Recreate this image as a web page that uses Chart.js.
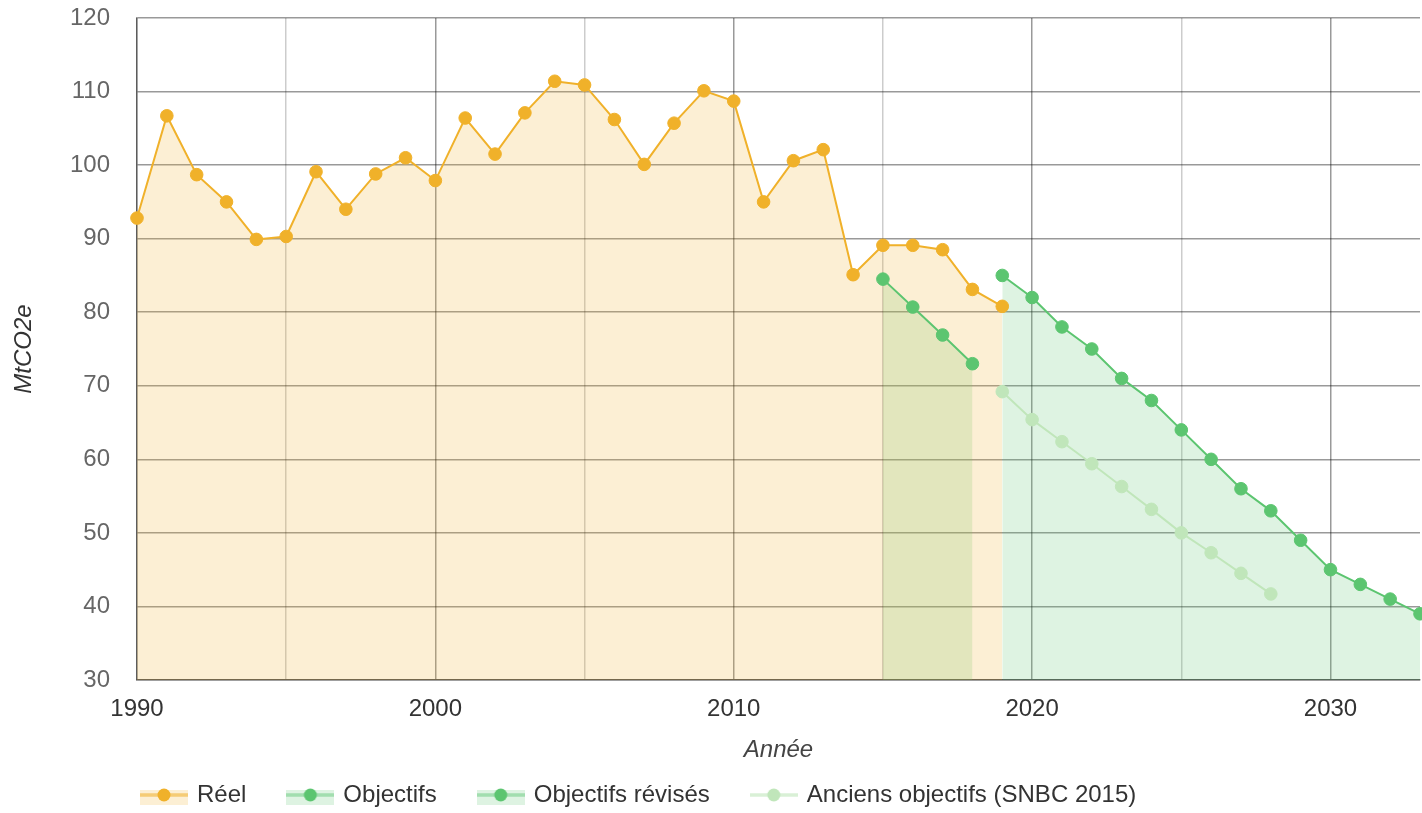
<!DOCTYPE html>
<html>
<head>
<meta charset="utf-8">
<script src="https://cdn.jsdelivr.net/npm/chart.js@4/dist/chart.umd.min.js"></script>
<style>
html,body{margin:0;padding:0;background:#fff;}
#wrap{width:1422px;height:813px;position:relative;}
</style>
</head>
<body>
<div id="wrap"><canvas id="c" width="1422" height="813"></canvas></div>
<script>
// ---- Data ----
const reelYears = [1990,1991,1992,1993,1994,1995,1996,1997,1998,1999,2000,2001,2002,2003,2004,2005,2006,2007,2008,2009,2010,2011,2012,2013,2014,2015,2016,2017,2018,2019];
const reelValues = [92.8,106.7,98.7,95.0,89.9,90.3,99.1,94.0,98.8,101.0,97.9,106.4,101.5,107.1,111.4,110.9,106.2,100.1,105.7,110.1,108.7,95.0,100.6,102.1,85.1,89.1,89.1,88.5,83.1,80.8];

const objectifsYears = [2015,2016,2017,2018];
const objectifsValues = [84.5,80.7,76.9,73.0];

const revisesYears = [2019,2020,2021,2022,2023,2024,2025,2026,2027,2028,2029,2030,2031,2032,2033];
const revisesValues = [85,82,78,75,71,68,64,60,56,53,49,45,43,41,39];

const anciensYears = [2019,2020,2021,2022,2023,2024,2025,2026,2027,2028];
const anciensValues = [69.2,65.4,62.4,59.4,56.3,53.2,50.0,47.3,44.5,41.7];

const seriesLabels = ['Réel','Objectifs','Objectifs révisés','Anciens objectifs (SNBC 2015)'];
const xTickLabels = ['1990','2000','2010','2020','2030'];
const yTickValues = [30,40,50,60,70,80,90,100,110,120];

// ---- Styles ----
const ORANGE = 'rgb(240,177,42)';
const ORANGE_FILL = 'rgba(240,177,42,0.2)';
const GREEN = 'rgb(92,197,112)';
const GREEN_FILL = 'rgba(92,197,112,0.2)';
const LIGHT_GREEN = 'rgb(192,230,186)';
const FONT = "'Liberation Sans', Arial, sans-serif";
const CLEAR = 'rgba(0,0,0,0)';

function pts(xs, ys){ return xs.map((x,i)=>({x:x, y:ys[i]})); }

function legendIcon(fill, line, point){
  const c = document.createElement('canvas');
  c.width = 48; c.height = 24;
  const g = c.getContext('2d');
  if (fill){ g.fillStyle = fill; g.fillRect(0,7,48,15); }
  g.strokeStyle = line; g.lineWidth = 3.5;
  g.beginPath(); g.moveTo(0,12); g.lineTo(48,12); g.stroke();
  g.fillStyle = point;
  g.beginPath(); g.arc(24,12,6.5,0,Math.PI*2); g.fill();
  return c;
}
const icons = [
  legendIcon(ORANGE_FILL,'rgba(240,177,42,0.55)',ORANGE),
  legendIcon(GREEN_FILL,'rgba(92,197,112,0.45)',GREEN),
  legendIcon(GREEN_FILL,'rgba(92,197,112,0.45)',GREEN),
  legendIcon(null,'rgba(192,230,186,0.6)',LIGHT_GREEN)
];

const MAJOR = 'rgba(0,0,0,0.40)';
const MINOR = 'rgba(0,0,0,0.20)';

const legendPlacer = {
  id:'legendPlacer',
  afterLayout(chart){
    if (chart.legend){
      chart.legend.left = chart.chartArea.left - 37;
      chart.legend.top = 740;
    }
  }
};

function lineDs(label, data, color, fill, fillColor){
  return {
    label, data,
    borderColor: color,
    backgroundColor: fillColor || color,
    pointBackgroundColor: color,
    pointBorderColor: color,
    pointBorderWidth: 1,
    pointRadius: 6.3,
    pointHoverRadius: 6.3,
    borderWidth: 2,
    tension: 0,
    clip: 10,
    fill: fill
  };
}

new Chart(document.getElementById('c'), {
  type: 'line',
  data: {
    datasets: [
      lineDs(seriesLabels[0], pts(reelYears, reelValues), ORANGE, 'start', ORANGE_FILL),
      lineDs(seriesLabels[1], pts(objectifsYears, objectifsValues), GREEN, 'start', GREEN_FILL),
      lineDs(seriesLabels[2], pts(revisesYears, revisesValues), GREEN, 'start', GREEN_FILL),
      lineDs(seriesLabels[3], pts(anciensYears, anciensValues), LIGHT_GREEN, false, null)
    ]
  },
  options: {
    responsive: false,
    animation: false,
    devicePixelRatio: 1,
    layout: { autoPadding: false, padding: { top: 18, right: 2, left: 0, bottom: 0 } },
    plugins: {
      filler: { drawTime: 'beforeDatasetsDraw' },
      tooltip: { enabled: false },
      legend: {
        position: 'bottom',
        align: 'start',
        maxHeight: 43,
        labels: {
          usePointStyle: true,
          pointStyleWidth: 42,
          padding: 43,
          color: '#333',
          font: { family: FONT, size: 24 },
          generateLabels(chart){
            return chart.data.datasets.map((ds,i)=>({
              text: ds.label,
              pointStyle: icons[i],
              datasetIndex: i,
              hidden: false,
              lineWidth: 0,
              fontColor: '#333'
            }));
          }
        }
      }
    },
    scales: {
      x: {
        type: 'linear',
        min: 1990,
        max: 2033,
        afterFit(s){ s.height = 90; s.paddingRight = 0; s.paddingLeft = 0; },
        ticks: {
          stepSize: 5,
          includeBounds: false,
          autoSkip: false,
          maxRotation: 0,
          padding: 0,
          color: '#333',
          font: { family: FONT, size: 24 },
          callback(v){ const s = String(v); return xTickLabels.includes(s) ? s : ''; }
        },
        grid: {
          drawTicks: true,
          tickLength: 15,
          tickColor: CLEAR,
          lineWidth: 1.5,
          color(ctx){ return (ctx.tick && ctx.tick.value % 10 === 0) ? MAJOR : MINOR; }
        },
        border: { display: true, color: 'rgba(0,0,0,0.45)', width: 1.5 },
        title: {
          display: true,
          text: 'Année',
          color: '#444',
          font: { family: FONT, size: 24, style: 'italic' },
          padding: { top: 0, bottom: 5.6 }
        }
      },
      y: {
        min: 30,
        max: 120,
        afterFit(s){ s.width = 137; },
        afterBuildTicks(s){ s.ticks = yTickValues.map(v=>({value:v})); },
        ticks: {
          padding: 0,
          color: '#666',
          font: { family: FONT, size: 24 }
        },
        grid: { drawTicks: true, tickLength: 27, tickColor: CLEAR, lineWidth: 1.5, color: MAJOR },
        border: { display: true, color: MAJOR, width: 1.5 },
        title: {
          display: true,
          text: 'MtCO2e',
          color: '#333',
          font: { family: FONT, size: 24, style: 'italic' },
          padding: { top: 10, bottom: 0 }
        }
      }
    }
  },
  plugins: [legendPlacer]
});
</script>
</body>
</html>
